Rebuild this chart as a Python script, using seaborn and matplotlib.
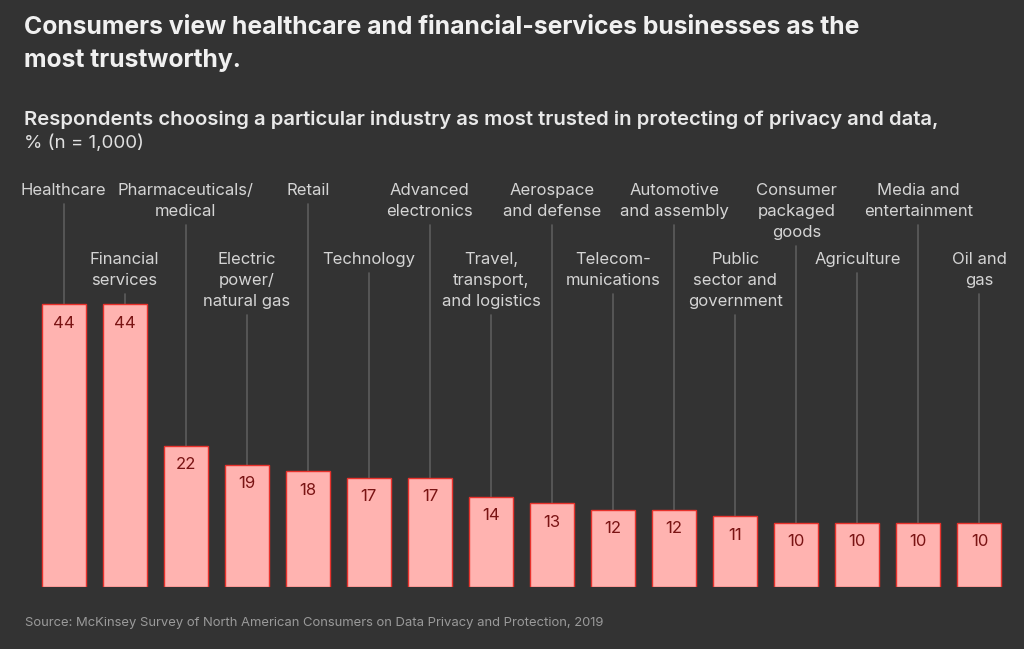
import pandas as pd
import numpy as np
import matplotlib
matplotlib.use("Agg")
import matplotlib.pyplot as plt
import matplotlib.transforms as mtransforms
import seaborn as sns

# data
industries = ["Healthcare", "Financial\nservices", "Pharmaceuticals/\nmedical",
              "Electric\npower/\nnatural gas", "Retail", "Technology",
              "Advanced\nelectronics", "Travel,\ntransport,\nand logistics",
              "Aerospace\nand defense", "Telecom-\nmunications",
              "Automotive\nand assembly", "Public\nsector and\ngovernment",
              "Consumer\npackaged\ngoods", "Agriculture",
              "Media and\nentertainment", "Oil and\ngas"]
share = [44, 44, 22, 19, 18, 17, 17, 14, 13, 12, 12, 11, 10, 10, 10, 10]

df = pd.DataFrame({"industry": industries, "share": share})

bg = "#333333"
sns.set_theme(style="dark", rc={"axes.facecolor": bg, "figure.facecolor": bg})
plt.rcParams["font.family"] = ["Inter", "DejaVu Sans"]

W, H = 1024, 649
fig = plt.figure(figsize=(W / 100, H / 100), dpi=100)
# axes: x from 33 to 1010 px, y from 587 (bottom) up to 170 px
ax = fig.add_axes([33 / W, 1 - 587 / H, (1010 - 33) / W, (587 - 170) / H])
ax.set_facecolor(bg)

sns.barplot(data=df, x="industry", y="share", color="#ffb3b0",
            edgecolor="#e8322c", linewidth=1.0, width=0.72, saturation=1,
            ax=ax)
ax.set_xlim(-0.5, len(share) - 0.5)
ax.set_ylim(0, 44 * (587 - 170) / 283)
ax.set_axis_off()

to_fig = fig.transFigure
inv = ax.transData.inverted()
blend = mtransforms.blended_transform_factory(ax.transData, fig.transFigure)

line_h = 21
for i, (lab, v) in enumerate(zip(industries, share)):
    top = 189 if i % 2 == 0 else 258
    lines = lab.split("\n")
    # category label, one line at a time for exact spacing
    for k, ln in enumerate(lines):
        fig.text(i, 1 - (top + k * line_h) / H, ln, transform=blend,
                 ha="center", va="center_baseline", color="#d4d4d4",
                 fontsize=12)
    # leader line from label to bar top
    y_start_px = top + line_h * (len(lines) - 1) + 15
    y0 = inv.transform(to_fig.transform((0, 1 - y_start_px / H)))[1]
    ax.plot([i, i], [y0, v], color="#5c5c5c", lw=1.2, zorder=0,
            clip_on=False)
    # value inside bar
    ax.annotate(str(v), (i, v), xytext=(0, -19), textcoords="offset pixels",
                ha="center", va="center", color="#7a1414", fontsize=12)

fig.text(24 / W, 1 - 27 / H,
         "Consumers view healthcare and financial-services businesses as the",
         ha="left", va="center", color="#f0f0f0", fontsize=17.8,
         fontweight="bold")
fig.text(24 / W, 1 - 60 / H, "most trustworthy.",
         ha="left", va="center", color="#f0f0f0", fontsize=17.8,
         fontweight="bold")
fig.text(24 / W, 1 - 120 / H,
         "Respondents choosing a particular industry as most trusted in protecting of privacy and data,",
         ha="left", va="center", color="#e8e8e8", fontsize=14.6,
         fontweight="semibold")
fig.text(24 / W, 1 - 143 / H, "% (n = 1,000)", ha="left", va="center",
         color="#e0e0e0", fontsize=13.5)
fig.text(25 / W, 1 - 623 / H,
         "Source: McKinsey Survey of North American Consumers on Data Privacy and Protection, 2019",
         ha="left", va="center", color="#9a9a9a", fontsize=9.4)

fig.savefig("out.png", dpi=100, facecolor=bg)
